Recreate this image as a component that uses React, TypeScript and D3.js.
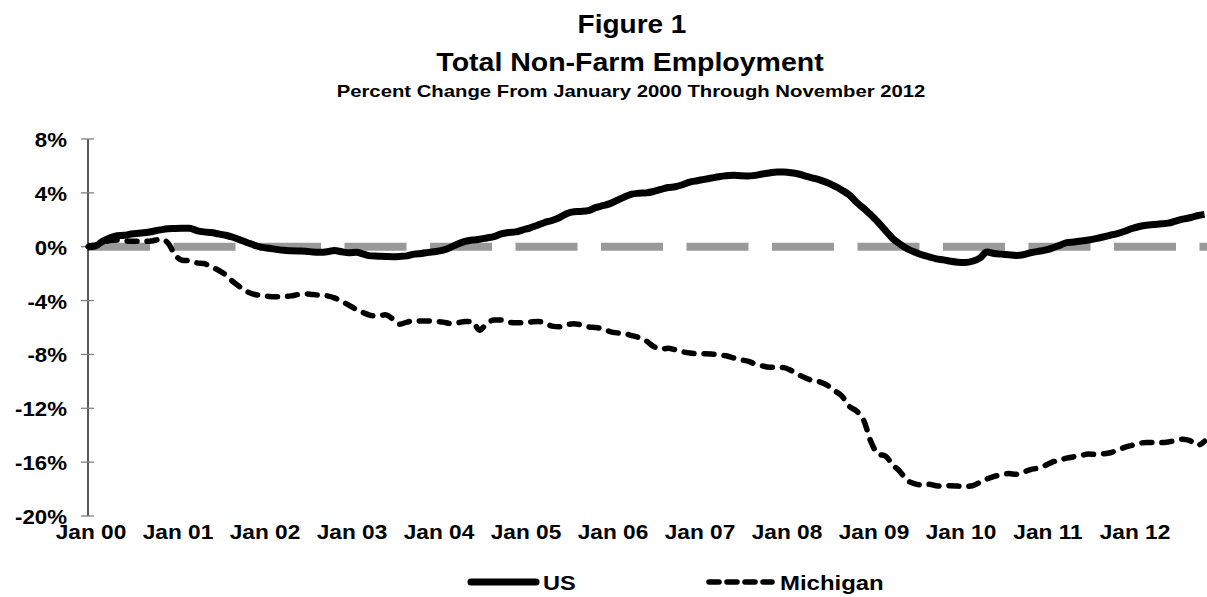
import React from 'react';
import * as d3 from 'd3';

// percent change from Jan 2000, one value per month (Jan 2000 .. Nov 2012)
const us = [
  0, 0.05, 0.4, 0.65, 0.82, 0.85, 0.95, 1.0, 1.05, 1.15, 1.25, 1.33,
  1.35, 1.37, 1.38, 1.2, 1.1, 1.05, 0.95, 0.85, 0.7, 0.5, 0.3, 0.1,
  -0.05, -0.12, -0.2, -0.27, -0.3, -0.32, -0.33, -0.4, -0.42, -0.38, -0.28, -0.38,
  -0.45, -0.42, -0.55, -0.68, -0.7, -0.72, -0.74, -0.72, -0.68, -0.55, -0.5, -0.42,
  -0.35, -0.25, -0.05, 0.2, 0.4, 0.5, 0.55, 0.65, 0.75, 0.95, 1.05, 1.1,
  1.25, 1.4, 1.6, 1.8, 1.95, 2.15, 2.45, 2.6, 2.62, 2.68, 2.9, 3.05,
  3.2, 3.45, 3.7, 3.9, 3.97, 4.0, 4.1, 4.25, 4.4, 4.45, 4.6, 4.8,
  4.9, 5.0, 5.1, 5.2, 5.27, 5.3, 5.27, 5.25, 5.3, 5.4, 5.48, 5.55,
  5.55, 5.5, 5.4, 5.25, 5.1, 4.95, 4.75, 4.5, 4.2, 3.85, 3.3, 2.85,
  2.35, 1.8, 1.2, 0.6, 0.2, -0.15, -0.4, -0.6, -0.75, -0.9, -0.98, -1.08,
  -1.15, -1.17, -1.08, -0.85, -0.4, -0.5, -0.55, -0.6, -0.65, -0.6, -0.45, -0.35,
  -0.25, -0.1, 0.1, 0.3, 0.35, 0.42, 0.5, 0.6, 0.72, 0.85, 0.98, 1.15,
  1.35, 1.5, 1.6, 1.65, 1.7, 1.75, 1.9, 2.05, 2.15, 2.3, 2.4,
];

const michigan = [
  0, 0.1, 0.3, 0.45, 0.5, 0.45, 0.4, 0.4, 0.4, 0.45, 0.55, 0.3,
  -0.6, -1.0, -1.05, -1.2, -1.25, -1.5, -1.75, -2.1, -2.6, -3.0, -3.35, -3.55,
  -3.62, -3.7, -3.72, -3.7, -3.65, -3.55, -3.5, -3.55, -3.6, -3.65, -3.8, -4.05,
  -4.35, -4.65, -4.9, -5.1, -5.15, -5.05, -5.35, -5.75, -5.6, -5.5, -5.52, -5.52,
  -5.55, -5.6, -5.7, -5.65, -5.55, -5.55, -6.2, -5.7, -5.45, -5.45, -5.6, -5.65,
  -5.65, -5.6, -5.55, -5.65, -5.9, -5.95, -5.8, -5.72, -5.8, -5.95, -6.0, -6.1,
  -6.3, -6.4, -6.45, -6.6, -6.75, -7.0, -7.4, -7.6, -7.55, -7.65, -7.8, -7.9,
  -7.95, -7.95, -7.97, -8.05, -8.1, -8.25, -8.4, -8.5, -8.7, -8.85, -8.95, -8.95,
  -8.98, -9.2, -9.5, -9.75, -9.95, -10.05, -10.3, -10.7, -11.1, -11.85, -12.2, -12.9,
  -14.5, -15.4, -15.55, -16.2, -16.7, -17.35, -17.6, -17.7, -17.65, -17.75, -17.8, -17.75,
  -17.78, -17.8, -17.75, -17.5, -17.25, -17.05, -16.95, -16.85, -16.9, -16.75, -16.55, -16.45,
  -16.25, -16.0, -15.85, -15.7, -15.6, -15.5, -15.4, -15.42, -15.38, -15.3, -15.1, -14.9,
  -14.75, -14.6, -14.55, -14.55, -14.55, -14.5, -14.4, -14.3, -14.4, -14.75, -14.45,
];

const yearLabels = ['Jan 00', 'Jan 01', 'Jan 02', 'Jan 03', 'Jan 04', 'Jan 05', 'Jan 06',
  'Jan 07', 'Jan 08', 'Jan 09', 'Jan 10', 'Jan 11', 'Jan 12'];
const yTicks = [8, 4, 0, -4, -8, -12, -16, -20];

const W = 1207;
const H = 597;
const font = '"Liberation Sans", Arial, Helvetica, sans-serif';

const Label = (p: { x: number; y: number; size: number; sx?: number; anchor?: string; children: React.ReactNode }) => (
  <text
    transform={`translate(${p.x},${p.y}) scale(${p.sx ?? 1},1)`}
    fontSize={p.size}
    fontWeight="bold"
    fontFamily={font}
    textAnchor={p.anchor ?? 'middle'}
    fill="#000"
  >
    {p.children}
  </text>
);

export default function App() {
  const x = d3.scaleLinear().domain([0, us.length - 1]).range([88, 1204.5]);
  const y = d3.scaleLinear().domain([8, -20]).range([139, 516]);

  const line = d3
    .line<number>()
    .x((_, i) => x(i))
    .y((d) => y(d))
    .curve(d3.curveMonotoneX);

  return (
    <svg width={W} height={H} style={{ position: 'absolute', left: 0, top: 0, background: '#fff' }}>
      <Label x={632} y={33} size={25} sx={1.12}>Figure 1</Label>
      <Label x={630} y={71} size={25} sx={1.14}>Total Non-Farm Employment</Label>
      <Label x={631} y={97} size={16} sx={1.27}>Percent Change From January 2000 Through November 2012</Label>

      {/* zero reference line */}
      <line x1={x(0)} x2={W} y1={y(0)} y2={y(0)} stroke="#999999" strokeWidth={8} strokeDasharray="62 23.5" />

      {/* y axis */}
      <line x1={88} x2={88} y1={y(8)} y2={y(-20)} stroke="#000" strokeWidth={1.3} />
      {yTicks.map((t) => (
        <g key={t}>
          <line x1={81} x2={94} y1={y(t)} y2={y(t)} stroke="#808080" strokeWidth={1.3} />
          <Label x={67} y={y(t) + 8} size={21} sx={1.06} anchor="end">{`${t}%`}</Label>
        </g>
      ))}

      {/* x labels */}
      {yearLabels.map((l, i) => (
        <Label key={l} x={x(i * 12) + 3} y={539} size={21} sx={1.08}>{l}</Label>
      ))}

      <path d={line(us) ?? ''} fill="none" stroke="#000" strokeWidth={7} strokeLinejoin="round" />
      <path
        d={line(michigan) ?? ''}
        fill="none"
        stroke="#000"
        strokeWidth={5.5}
        strokeDasharray="10 10"
        strokeLinecap="round"
        strokeLinejoin="round"
      />

      {/* legend */}
      <line x1={471} x2={536} y1={582} y2={582} stroke="#000" strokeWidth={7} strokeLinecap="round" />
      <Label x={543} y={590} size={21} sx={1.12} anchor="start">US</Label>
      <line x1={709} x2={772} y1={582} y2={582} stroke="#000" strokeWidth={5.5} strokeDasharray="10 8" strokeLinecap="round" />
      <Label x={780} y={590} size={21} sx={1.14} anchor="start">Michigan</Label>
    </svg>
  );
}
